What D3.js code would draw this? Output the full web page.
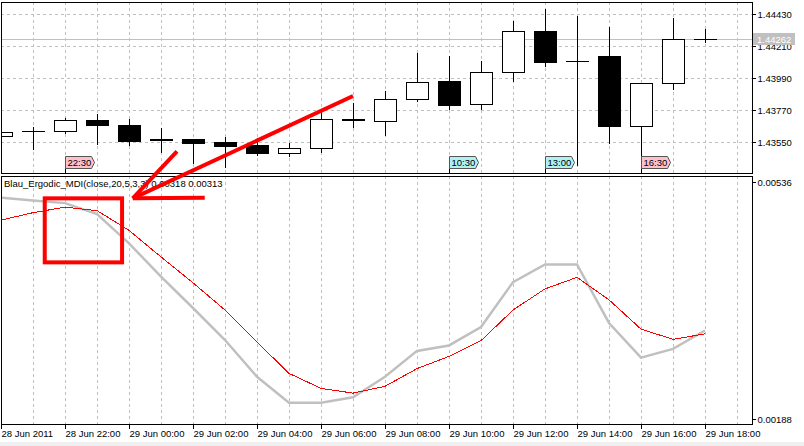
<!DOCTYPE html>
<html>
<head>
<meta charset="utf-8">
<script src="https://cdn.jsdelivr.net/npm/d3@7"></script>
<style>
  body { margin: 0; background: #ffffff; }
  text { font-family: "Liberation Sans", Arial, sans-serif; font-size: 9.5px; }
</style>
</head>
<body>
<div id="chart"></div>
<script>
// H1 bars, 28 Jun 2011 20:00 .. 29 Jun 2011 18:00
var barTimes = ["2011-06-28 20:00", "2011-06-28 21:00", "2011-06-28 22:00", "2011-06-28 23:00",
    "2011-06-29 00:00", "2011-06-29 01:00", "2011-06-29 02:00", "2011-06-29 03:00", "2011-06-29 04:00",
    "2011-06-29 05:00", "2011-06-29 06:00", "2011-06-29 07:00", "2011-06-29 08:00", "2011-06-29 09:00",
    "2011-06-29 10:00", "2011-06-29 11:00", "2011-06-29 12:00", "2011-06-29 13:00", "2011-06-29 14:00",
    "2011-06-29 15:00", "2011-06-29 16:00", "2011-06-29 17:00", "2011-06-29 18:00"];
var opens  = [1.43595, 1.43626, 1.43626, 1.43703, 1.43667, 1.43570, 1.43571, 1.43552, 1.43530, 1.43474, 1.43509, 1.43708,
    1.43694, 1.43846, 1.43971, 1.43811, 1.44031, 1.44313, 1.44109, 1.44143, 1.43664, 1.43956, 1.44262];
var highs  = [1.43623, 1.43655, 1.43719, 1.43745, 1.43712, 1.43648, 1.43571, 1.43586, 1.43578, 1.43543, 1.43760, 1.43820,
    1.43905, 1.44166, 1.44143, 1.44109, 1.44384, 1.44464, 1.44418, 1.44345, 1.43956, 1.44405, 1.44329];
var lows   = [1.43595, 1.43506, 1.43616, 1.43538, 1.43529, 1.43485, 1.43406, 1.43382, 1.43461, 1.43458, 1.43485, 1.43655,
    1.43602, 1.43836, 1.43781, 1.43779, 1.43974, 1.44077, 1.43394, 1.43547, 1.43456, 1.43918, 1.44237];
var closes = [1.43623, 1.43626, 1.43703, 1.43671, 1.43561, 1.43566, 1.43547, 1.43527, 1.43473, 1.43509, 1.43710, 1.43701,
    1.43846, 1.43963, 1.43809, 1.44031, 1.44313, 1.44104, 1.44109, 1.43664, 1.43956, 1.44258, 1.44262];

// Blau Ergodic MDI buffers
var ergodic = [0.00513, 0.00509, 0.00505, 0.00489, 0.00446, 0.00397, 0.00351, 0.00304, 0.00250, 0.00212, 0.00212, 0.00220,
    0.00250, 0.00288, 0.00296, 0.00323, 0.00389, 0.00415, 0.00415, 0.00329, 0.00278, 0.00291, 0.00318];
var signal  = [0.00480, 0.00491, 0.00499, 0.00494, 0.00465, 0.00426, 0.00388, 0.00348, 0.00301, 0.00255, 0.00233, 0.00226,
    0.00236, 0.00262, 0.00280, 0.00303, 0.00348, 0.00379, 0.00396, 0.00363, 0.00320, 0.00305, 0.00313];
var indName = "Blau_Ergodic_MDI(close,20,5,3,3)";

var priceTicks = [1.44430, 1.44210, 1.43990, 1.43770, 1.43550];
var lastPrice = 1.44262;
var indTicks = [0.00536, 0.00188];

var timeTicks = ["2011-06-28 20:00", "2011-06-28 22:00", "2011-06-29 00:00", "2011-06-29 02:00", "2011-06-29 04:00",
    "2011-06-29 06:00", "2011-06-29 08:00", "2011-06-29 10:00", "2011-06-29 12:00", "2011-06-29 14:00",
    "2011-06-29 16:00", "2011-06-29 18:00"];
var timeTickLabels = ["28 Jun 2011", "28 Jun 22:00", "29 Jun 00:00", "29 Jun 02:00", "29 Jun 04:00", "29 Jun 06:00",
    "29 Jun 08:00", "29 Jun 10:00", "29 Jun 12:00", "29 Jun 14:00", "29 Jun 16:00", "29 Jun 18:00"];

// calendar events shown on the price panel
var eventBars   = ["2011-06-28 22:00", "2011-06-29 10:00", "2011-06-29 13:00", "2011-06-29 16:00"];
var eventLabels = ["22:30", "10:30", "13:00", "16:30"];
var eventImpact = ["high", "low", "low", "high"];

// hand drawn red markup (box on the indicator, arrow pointing at it)
var markBoxTimes  = ["2011-06-28 21:22", "2011-06-28 23:47"];
var markBoxValues = [0.00512, 0.00418];
var arrowTip = {t: "2011-06-29 00:07", ind: 0.00512};
var arrowTails = [
    {t: "2011-06-29 07:00", price: 1.43868},
    {t: "2011-06-29 01:30", price: 1.43487},
    {t: "2011-06-29 02:22", ind: 0.00513}
];

var parse = d3.timeParse("%Y-%m-%d %H:%M");

var width = 804, height = 446;
var left = 1, right = 752;
var mainTop = 2, mainBottom = 173;
var indTop = 176, indBottom = 424;
var gridColor = "#c0c0c0";

var svg = d3.select("#chart").append("svg")
    .attr("width", width)
    .attr("height", height);

svg.append("rect").attr("width", width).attr("height", height).attr("fill", "#ffffff");
svg.append("rect").attr("x", 0).attr("y", 442).attr("width", width).attr("height", 4).attr("fill", "#f0f0f0");

var t0 = parse(barTimes[0]);
var x = d3.scaleTime()
    .domain([t0, parse(barTimes[barTimes.length - 1])])
    .range([1, 705]);

var yPrice = d3.scaleLinear().domain([1.43550, 1.44430]).range([142.3, 14.3]);
var yInd = d3.scaleLinear().domain([0.00188, 0.00536]).range([419, 182]);

var defs = svg.append("defs");
defs.append("clipPath").attr("id", "clipMain").append("rect")
    .attr("x", left + 1).attr("y", mainTop + 1).attr("width", right - left - 1).attr("height", mainBottom - mainTop - 1);
defs.append("clipPath").attr("id", "clipInd").append("rect")
    .attr("x", left + 1).attr("y", indTop + 1).attr("width", right - left - 1).attr("height", indBottom - indTop - 1);

// vertical grid, one per hour
var gridHours = d3.timeHour.range(d3.timeHour.offset(t0, 1), d3.timeHour.offset(parse(barTimes[barTimes.length - 1]), 2));
[[mainTop, mainBottom], [indTop, indBottom]].forEach(function(p) {
    svg.append("g").selectAll("line")
        .data(gridHours)
        .enter().append("line")
        .attr("x1", function(d) { return Math.round(x(d)) + 0.5; })
        .attr("x2", function(d) { return Math.round(x(d)) + 0.5; })
        .attr("y1", p[0]).attr("y2", p[1])
        .attr("stroke", gridColor)
        .attr("stroke-dasharray", "3,3")
        .attr("shape-rendering", "crispEdges");
});

// horizontal grid on price panel
svg.append("g").selectAll("line")
    .data(priceTicks)
    .enter().append("line")
    .attr("x1", left).attr("x2", right)
    .attr("y1", function(d) { return Math.round(yPrice(d)) + 0.5; })
    .attr("y2", function(d) { return Math.round(yPrice(d)) + 0.5; })
    .attr("stroke", gridColor)
    .attr("stroke-dasharray", "3,3")
    .attr("shape-rendering", "crispEdges");

// last price line
svg.append("line")
    .attr("x1", left).attr("x2", right)
    .attr("y1", Math.round(yPrice(lastPrice)) + 0.5)
    .attr("y2", Math.round(yPrice(lastPrice)) + 0.5)
    .attr("stroke", gridColor)
    .attr("shape-rendering", "crispEdges");

// candles
var bars = barTimes.map(function(t, i) {
    return {t: parse(t), o: opens[i], h: highs[i], l: lows[i], c: closes[i]};
});

var candles = svg.append("g")
    .attr("clip-path", "url(#clipMain)")
    .attr("shape-rendering", "crispEdges");

candles.selectAll("line.wick")
    .data(bars)
    .enter().append("line")
    .attr("class", "wick")
    .attr("x1", function(d) { return Math.round(x(d.t)) + 0.5; })
    .attr("x2", function(d) { return Math.round(x(d.t)) + 0.5; })
    .attr("y1", function(d) { return Math.round(yPrice(d.h)); })
    .attr("y2", function(d) { return Math.round(yPrice(d.l)) + 1; })
    .attr("stroke", "#000");

bars.forEach(function(d) {
    var cx = Math.round(x(d.t));
    var yo = yPrice(d.o), yc = yPrice(d.c);
    var top = Math.round(Math.min(yo, yc)), bot = Math.round(Math.max(yo, yc));
    if (bot - top < 1) {
        candles.append("line")
            .attr("x1", cx - 11).attr("x2", cx + 12)
            .attr("y1", top + 0.5).attr("y2", top + 0.5)
            .attr("stroke", "#000");
    } else {
        candles.append("rect")
            .attr("x", cx - 10.5).attr("width", 22)
            .attr("y", top + 0.5).attr("height", bot - top)
            .attr("fill", d.c >= d.o ? "#ffffff" : "#000000")
            .attr("stroke", "#000");
    }
});

// event markers
var impactColor = d3.scaleOrdinal().domain(["high", "low"]).range(["#ffc0cb", "#b0f0f0"]);
eventBars.forEach(function(t, i) {
    var ex = Math.round(x(parse(t))) + 0.5;
    var g = svg.append("g");
    g.append("line")
        .attr("x1", ex).attr("x2", ex)
        .attr("y1", 168).attr("y2", mainBottom)
        .attr("stroke", "#000")
        .attr("shape-rendering", "crispEdges");
    g.append("path")
        .attr("d", "M" + ex + ",168.5V156.5H" + (ex + 26) + "L" + (ex + 29) + ",162.5L" + (ex + 26) + ",168.5Z")
        .attr("fill", impactColor(eventImpact[i]))
        .attr("stroke", "#555");
    g.append("text")
        .attr("x", ex + 2).attr("y", 166)
        .attr("fill", "#000")
        .text(eventLabels[i]);
});

// indicator lines
var ind = svg.append("g").attr("clip-path", "url(#clipInd)");
ind.append("path")
    .datum(bars)
    .attr("fill", "none")
    .attr("stroke", "#c0c0c0")
    .attr("stroke-width", 2.5)
    .attr("d", d3.line().x(function(d) { return x(d.t); }).y(function(d, i) { return yInd(ergodic[i]); }));
ind.append("path")
    .datum(bars)
    .attr("fill", "none")
    .attr("stroke", "#ff0000")
    .attr("stroke-width", 1)
    .attr("shape-rendering", "crispEdges")
    .attr("d", d3.line().x(function(d) { return x(d.t); }).y(function(d, i) { return yInd(signal[i]); }));

svg.append("text")
    .attr("x", 4).attr("y", 187)
    .attr("fill", "#000")
    .text(indName + " " + ergodic[ergodic.length - 1].toFixed(5) + " " + signal[signal.length - 1].toFixed(5));

// panel borders
svg.append("rect")
    .attr("x", left + 0.5).attr("y", mainTop + 0.5)
    .attr("width", right - left).attr("height", mainBottom - mainTop)
    .attr("fill", "none").attr("stroke", "#000").attr("shape-rendering", "crispEdges");
svg.append("rect")
    .attr("x", left + 0.5).attr("y", indTop + 0.5)
    .attr("width", right - left).attr("height", indBottom - indTop)
    .attr("fill", "none").attr("stroke", "#000").attr("shape-rendering", "crispEdges");

// price axis
var pAxis = svg.append("g")
    .attr("transform", "translate(" + (right + 0.5) + ",0)")
    .call(d3.axisRight(yPrice).tickValues(priceTicks).tickFormat(d3.format(".5f")).tickSize(3).tickPadding(2));
pAxis.select(".domain").remove();

svg.append("rect")
    .attr("x", right + 1).attr("y", Math.round(yPrice(lastPrice)) - 6)
    .attr("width", 42).attr("height", 12)
    .attr("fill", gridColor);
svg.append("text")
    .attr("x", right + 5).attr("y", Math.round(yPrice(lastPrice)) + 3.5)
    .attr("fill", "#ffffff")
    .text(lastPrice.toFixed(5));

// indicator axis
var iAxis = svg.append("g")
    .attr("transform", "translate(" + (right + 0.5) + ",0)")
    .call(d3.axisRight(yInd).tickValues(indTicks).tickFormat(d3.format(".5f")).tickSize(3).tickPadding(2));
iAxis.select(".domain").remove();

// time axis
var tAxis = svg.append("g")
    .attr("transform", "translate(0," + (indBottom + 0.5) + ")")
    .call(d3.axisBottom(x)
        .tickValues(timeTicks.map(parse))
        .tickFormat(function(d, i) { return timeTickLabels[i]; })
        .tickSize(4).tickPadding(2));
tAxis.select(".domain").remove();
tAxis.selectAll("text").attr("text-anchor", "start").attr("x", 0);
svg.selectAll(".tick text").attr("font-family", null).attr("font-size", null).attr("fill", "#000");
svg.selectAll(".tick line").attr("stroke", "#000").attr("shape-rendering", "crispEdges");

// red markup
var red = svg.append("g")
    .attr("fill", "none")
    .attr("stroke", "#ff0000")
    .attr("stroke-width", 4);
var bx0 = x(parse(markBoxTimes[0])), bx1 = x(parse(markBoxTimes[1]));
var by0 = yInd(markBoxValues[0]), by1 = yInd(markBoxValues[1]);
red.append("rect")
    .attr("x", bx0).attr("y", by0)
    .attr("width", bx1 - bx0).attr("height", by1 - by0);

function markY(p) { return p.price !== undefined ? yPrice(p.price) : yInd(p.ind); }
var tipX = x(parse(arrowTip.t)), tipY = markY(arrowTip);
red.selectAll("line")
    .data(arrowTails)
    .enter().append("line")
    .attr("x1", function(d) { return x(parse(d.t)); })
    .attr("y1", function(d) { return markY(d); })
    .attr("x2", tipX)
    .attr("y2", tipY);
</script>
</body>
</html>
